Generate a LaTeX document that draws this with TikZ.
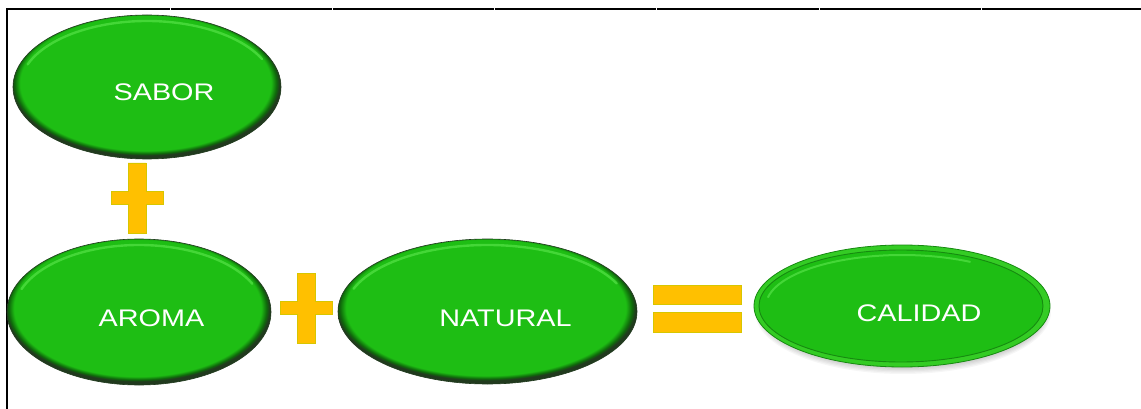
\documentclass[tikz,border=0pt]{standalone}
\usepackage{fontspec}
\newfontfamily\wordfont[FakeStretch=1.2]{Liberation Sans}
\usetikzlibrary{shapes.geometric,calc}

\definecolor{leaf}{HTML}{1EBE14}
\definecolor{leafrim}{HTML}{0F6A0B}
\definecolor{leafedge}{HTML}{213A1E}
\definecolor{leaflight}{HTML}{55E247}
\definecolor{leafring}{HTML}{34CC24}
\definecolor{leafline}{HTML}{168A10}
\definecolor{gold}{HTML}{FFC000}
\definecolor{goldedge}{HTML}{D8C600}

% green ball look: flat middle, dark rim
\pgfdeclareradialshading{leafball}{\pgfpoint{-0.5bp}{2.5bp}}{color(0bp)=(leaf); color(23.4bp)=(leaf); color(24.4bp)=(leafrim); color(25bp)=(leafedge); color(50bp)=(leafedge)}

\tikzset{
  bubble/.style={ellipse, inner sep=0pt, shading=leafball, draw=leafedge, line width=0.6pt,
    path picture={
      \draw[leaflight, line width=2.4pt, line cap=round, opacity=.7]
        let \p1=(path picture bounding box.north east), \p2=(path picture bounding box.center),
            \n1={\x1-\x2-7pt}, \n2={\y1-\y2-6pt} in
        ({\x2+\n1*cos(25)},{\y2+\n2*sin(25)}) arc[start angle=25, end angle=160, x radius={\n1*1pt}, y radius={\n2*1pt}];
    }},
  ringbubble/.style={ellipse, inner sep=0pt, fill=leafring, draw=leafline, line width=0.8pt,
    path picture={
      \filldraw[fill=leaf, draw=leafline, line width=0.9pt]
        let \p1=(path picture bounding box.north east), \p2=(path picture bounding box.center),
            \n1={\x1-\x2-6pt}, \n2={\y1-\y2-5pt} in
        ([xshift=-1pt]\p2) ellipse [x radius={\n1*1pt}, y radius={\n2*1pt}];
      \draw[leaflight, line width=2pt, line cap=round, opacity=.7]
        let \p1=(path picture bounding box.north east), \p2=(path picture bounding box.center),
            \n1={\x1-\x2-12pt}, \n2={\y1-\y2-10pt} in
        ({\x2+\n1*cos(60)},{\y2+\n2*sin(60)}) arc[start angle=60, end angle=170, x radius={\n1*1pt}, y radius={\n2*1pt}];
    }},
  word/.style={text=white, inner sep=0pt, font={\wordfont\fontsize{24}{27}\selectfont}},
  goldbar/.style={fill=gold, draw=goldedge, line width=0.6pt},
  plus/.pic={
    \path[goldbar] (-9,-35) -- (9,-35) -- (9,-6.5) -- (26,-6.5) -- (26,6.5) -- (9,6.5)
      -- (9,35) -- (-9,35) -- (-9,6.5) -- (-26,6.5) -- (-26,-6.5) -- (-9,-6.5) -- cycle;
  }
}

\begin{document}
\begin{tikzpicture}[x=1pt,y=-1pt]
\useasboundingbox[fill=white] (0,0) rectangle (1141,409);

% table rules
\foreach \a/\b in {7/169.5,170.5/331.5,332.5/493.5,494.5/655.5,656.5/818.5,819.5/980.5,981.5/1141}
  \draw[black, line width=1.3pt] (\a,9) -- (\b,9);
\draw[black, line width=1.3pt] (7,8.35) -- (7,409);

% the terms
\node[bubble, minimum width=268, minimum height=144] (sabor) at (147,87) {};
\node[bubble, minimum width=264, minimum height=146] (aroma) at (139,312) {};
\node[bubble, minimum width=299, minimum height=145] (natural) at (487.5,311.5) {};

% result, with its soft shadow
\foreach \k in {0,...,7}
  \fill[black, opacity=0.035] (903,312) ellipse ({148-\k*1.3} and {62-\k*1.3});
\node[ringbubble, minimum width=296, minimum height=122] (calidad) at (902,306) {};

\node[word] (saborlbl) at ([shift={(17,5)}]sabor.center) {SABOR};
\node[word] (aromalbl) at ([shift={(12.5,6)}]aroma.center) {AROMA};
\node[word] (naturallbl) at ([shift={(18,6.5)}]natural.center) {NATURAL};
\node[word] (calidadlbl) at ([shift={(17,7)}]calidad.center) {CALIDAD};

% operators
\pic (plusup) at (137,198) {plus};
\pic (plusmid) at (306.5,308) {plus};
\path[goldbar] (653,285) rectangle (741,304);
\path[goldbar] (653,312) rectangle (741,332);
\end{tikzpicture}
\end{document}
